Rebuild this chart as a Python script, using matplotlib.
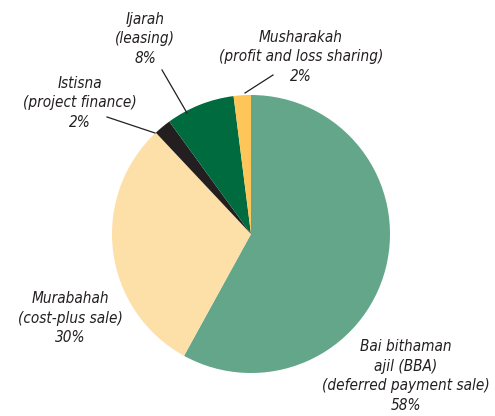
import matplotlib
matplotlib.use("Agg")
import matplotlib.pyplot as plt

labels = ["Bai bithaman\najil (BBA)\n(deferred payment sale)\n58%",
          "Murabahah\n(cost-plus sale)\n30%",
          "Istisna\n(project finance)\n2%",
          "Ijarah\n(leasing)\n8%",
          "Musharakah\n(profit and loss sharing)\n2%"]
shares = [58, 30, 2, 8, 2]
colors = ["#64a68a", "#fddfa8", "#231f20", "#006b3f", "#fec558"]

W, H = 495, 416
fig = plt.figure(figsize=(W / 100, H / 100), dpi=100)
ax = fig.add_axes([0, 0, 1, 1])

cx, cy, r = 251, H - 234, 139
ax.pie(shares, colors=colors, startangle=90, counterclock=False,
       center=(cx, cy), radius=r, frame=True,
       wedgeprops=dict(linewidth=0))
ax.set_xlim(0, W)
ax.set_ylim(0, H)
ax.set_aspect("equal")
ax.axis("off")

font = dict(family=["DejaVu Sans"], stretch="condensed",
            style="italic", fontsize=11, color="#231f20", ha="center",
            va="center", linespacing=1.4)

# label centre (pixel coords from top), leader line start/end
pos = [(406, 376, None), (70, 318, None),
       (80, 103, ((107, 117), (155, 133))),
       (145, 39, ((162, 70), (187, 113))),
       (301, 57, ((273, 75), (245, 93)))]
for lab, (x, y, lead) in zip(labels, pos):
    ax.text(x, H - y, lab, **font)
    if lead:
        (x0, y0), (x1, y1) = lead
        ax.plot([x0, x1], [H - y0, H - y1], color="#231f20", lw=0.9)

fig.savefig("out.png", dpi=100)
